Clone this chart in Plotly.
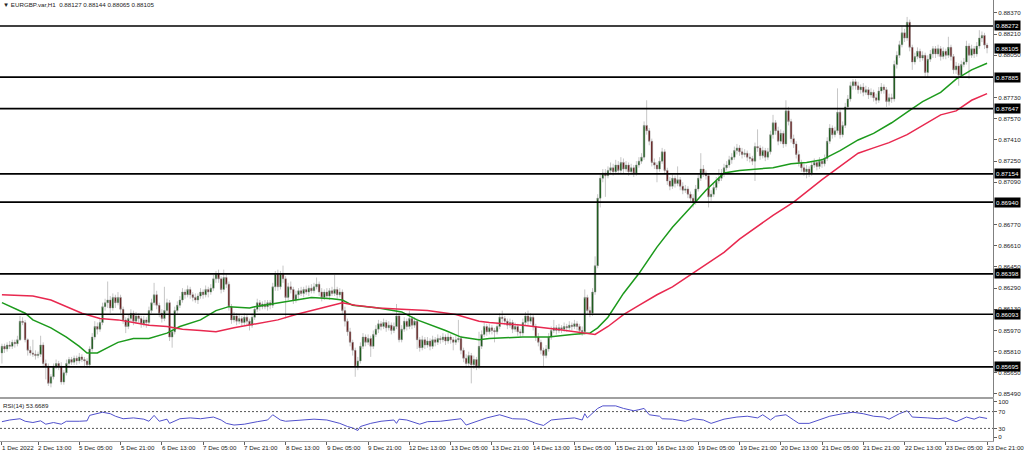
import pandas as pd
import plotly.graph_objects as go

# ---------------- data ----------------
symbol_title = "\u25bc EURGBP.var,H1  0.88127 0.88144 0.88065 0.88105"
rsi_title = "RSI(14) 53.6689"

first_open = 0.8580
close = [
    0.8585, 0.8583, 0.8586, 0.8585, 0.8588, 0.8587, 0.8590, 0.8604, 0.8603, 0.8590,
    0.8582, 0.8580, 0.8579, 0.8578, 0.8579, 0.8586, 0.8572, 0.8570, 0.8557, 0.8562,
    0.8570, 0.8572, 0.8570, 0.8558, 0.8565, 0.8572, 0.8575, 0.8573, 0.8576, 0.8574,
    0.8577, 0.8575, 0.8574, 0.8571, 0.8583, 0.8592, 0.8600, 0.8598, 0.8603, 0.8615,
    0.8618, 0.8620, 0.8614, 0.8622, 0.8618, 0.8622, 0.8613, 0.8605, 0.8600, 0.8606,
    0.8610, 0.8604, 0.8608, 0.8606, 0.8602, 0.8605, 0.8603, 0.8612, 0.8618, 0.8624,
    0.8616, 0.8610, 0.8606, 0.8612, 0.8618, 0.8592, 0.8596, 0.8612, 0.8616, 0.8620,
    0.8626, 0.8624, 0.8628, 0.8624, 0.8622, 0.8620, 0.8623, 0.8626, 0.8624, 0.8628,
    0.8626, 0.8629, 0.8636, 0.8640, 0.8636, 0.8628, 0.8637, 0.8632, 0.8615, 0.8605,
    0.8608, 0.8604, 0.8606, 0.8603, 0.8607, 0.8604, 0.8601, 0.8607, 0.8613, 0.8618,
    0.8615, 0.8617, 0.8615, 0.8618, 0.8616, 0.8630, 0.8640, 0.8630, 0.8640, 0.8636,
    0.8622, 0.8630, 0.8628, 0.8620, 0.8624, 0.8627, 0.8625, 0.8628, 0.8626, 0.8629,
    0.8627, 0.8630, 0.8632, 0.8626, 0.8622, 0.8626, 0.8623, 0.8627, 0.8625, 0.8628,
    0.8624, 0.8626, 0.8612, 0.8604, 0.8596, 0.8588, 0.8582, 0.8570, 0.8574, 0.8585,
    0.8592, 0.8588, 0.8591, 0.8585, 0.8594, 0.8598, 0.8602, 0.8600, 0.8603, 0.8599,
    0.8601, 0.8597, 0.8600, 0.8608, 0.8590, 0.8598, 0.8604, 0.8600, 0.8606, 0.8601,
    0.8604, 0.8590, 0.8584, 0.8590, 0.8586, 0.8589, 0.8585, 0.8590, 0.8588, 0.8591,
    0.8590, 0.8592, 0.8589, 0.8592, 0.8590, 0.8588, 0.8590, 0.8591, 0.8582, 0.8576,
    0.8572, 0.8578, 0.8571, 0.8575, 0.8570, 0.8585, 0.8594, 0.8600, 0.8596, 0.8599,
    0.8597, 0.8596, 0.8600, 0.8607, 0.8606, 0.8604, 0.8601, 0.8603, 0.8598, 0.8600,
    0.8596, 0.8595, 0.8603, 0.8608, 0.8604, 0.8607, 0.8600, 0.8592, 0.8588, 0.8582,
    0.8578, 0.8583, 0.8592, 0.8597, 0.8599, 0.8597, 0.8599, 0.8598, 0.8600, 0.8599,
    0.8601, 0.8600, 0.8602, 0.8600, 0.8597, 0.8596, 0.8622, 0.8612, 0.8610, 0.8626,
    0.8646, 0.8697, 0.8712, 0.8716, 0.8714, 0.8718, 0.8720, 0.8717, 0.8722, 0.8718,
    0.8724, 0.8719, 0.8722, 0.8717, 0.8720, 0.8716, 0.8722, 0.8725, 0.8728, 0.8752,
    0.8748, 0.8740, 0.8724, 0.8722, 0.8719, 0.8725, 0.8732, 0.8718, 0.8710, 0.8706,
    0.8712, 0.8708, 0.8711, 0.8706, 0.8703, 0.8704, 0.8700, 0.8697, 0.8694, 0.8704,
    0.8712, 0.8719, 0.8716, 0.8714, 0.8698, 0.8700, 0.8705, 0.8710, 0.8712, 0.8716,
    0.8720, 0.8722, 0.8726, 0.8728, 0.8733, 0.8735, 0.8732, 0.8730, 0.8731, 0.8728,
    0.8727, 0.8725, 0.8736, 0.8735, 0.8729, 0.8733, 0.8728, 0.8732, 0.8745, 0.8754,
    0.8748, 0.8740, 0.8746, 0.8738, 0.8763, 0.8755, 0.8742, 0.8738, 0.8730, 0.8724,
    0.8720, 0.8717, 0.8719, 0.8716, 0.8722, 0.8724, 0.8721, 0.8725, 0.8723, 0.8727,
    0.8740, 0.8750, 0.8745, 0.8748, 0.8762, 0.8745, 0.8752, 0.8766, 0.8772, 0.8782,
    0.8785, 0.8782, 0.8779, 0.8781, 0.8777, 0.8779, 0.8775, 0.8777, 0.8773, 0.8771,
    0.8778, 0.8781, 0.8779, 0.8770, 0.8773, 0.8772, 0.8798, 0.8805, 0.8813, 0.8822,
    0.8818, 0.8830, 0.8811, 0.8800, 0.8804, 0.8808, 0.8803, 0.8805, 0.8792, 0.8802,
    0.8806, 0.8810, 0.8806, 0.8810, 0.8804, 0.8808, 0.8805, 0.8811, 0.8804, 0.8794,
    0.8797, 0.8790, 0.8798, 0.8800, 0.8812, 0.8805, 0.8810, 0.8806, 0.8812, 0.8818,
    0.8820, 0.88127, 0.88105,
]
# wick lengths in pips (0.0001) above / below the candle body
upper_wick_pips = [
    2, 2, 2, 3, 2, 2, 3, 4, 3, 2,
    1, 3, 10, 3, 2, 7, 2, 3, 2, 2,
    2, 3, 2, 3, 2, 3, 2, 2, 2, 2,
    3, 2, 2, 2, 2, 3, 4, 3, 3, 3,
    3, 14, 3, 3, 2, 4, 2, 2, 2, 3,
    3, 2, 3, 2, 2, 3, 2, 3, 3, 9,
    3, 2, 3, 18, 3, 2, 3, 3, 3, 3,
    3, 2, 3, 2, 2, 3, 2, 3, 2, 3,
    2, 3, 3, 2, 3, 2, 6, 3, 2, 2,
    3, 2, 3, 2, 3, 2, 2, 3, 2, 3,
    2, 2, 3, 2, 2, 3, 2, 3, 2, 6,
    2, 3, 4, 2, 3, 2, 3, 2, 3, 2,
    3, 3, 5, 2, 3, 2, 3, 2, 3, 11,
    2, 3, 2, 3, 2, 3, 2, 2, 3, 3,
    3, 2, 3, 2, 3, 3, 3, 2, 3, 2,
    3, 2, 3, 9, 2, 3, 3, 2, 6, 2,
    3, 2, 2, 3, 2, 3, 2, 3, 2, 3,
    2, 3, 2, 3, 2, 2, 3, 14, 2, 2,
    3, 3, 2, 3, 2, 11, 3, 3, 2, 3,
    2, 2, 3, 3, 5, 2, 2, 3, 2, 3,
    2, 2, 3, 3, 4, 3, 2, 2, 3, 2,
    2, 3, 3, 3, 6, 2, 3, 2, 3, 2,
    3, 2, 3, 2, 2, 3, 6, 2, 3, 3,
    7, 3, 3, 3, 3, 3, 4, 3, 4, 3,
    4, 3, 3, 2, 3, 2, 3, 3, 3, 3,
    19, 2, 2, 3, 2, 3, 3, 2, 2, 3,
    3, 2, 10, 2, 3, 3, 2, 2, 3, 3,
    3, 12, 3, 2, 2, 3, 3, 3, 7, 3,
    3, 3, 3, 3, 3, 3, 2, 3, 3, 2,
    3, 2, 3, 13, 2, 3, 2, 3, 3, 6,
    2, 3, 3, 2, 8, 3, 2, 3, 2, 3,
    2, 3, 3, 2, 3, 3, 2, 3, 2, 3,
    3, 3, 2, 3, 18, 2, 3, 3, 3, 3,
    2, 2, 3, 2, 3, 3, 2, 3, 2, 3,
    3, 3, 2, 2, 3, 3, 3, 3, 3, 5,
    3, 4, 2, 2, 3, 3, 2, 3, 2, 3,
    3, 2, 2, 3, 2, 3, 2, 8, 2, 2,
    3, 2, 3, 3, 4, 2, 3, 2, 3, 6,
    3, 2, 1.7,
]
lower_wick_pips = [
    8, 3, 2, 2, 2, 3, 2, 1, 2, 2,
    4, 2, 2, 3, 2, 2, 3, 10, 2, 3,
    2, 2, 3, 2, 2, 2, 3, 2, 2, 3,
    2, 2, 4, 2, 2, 2, 2, 4, 2, 2,
    3, 4, 4, 2, 4, 2, 3, 3, 5, 2,
    2, 3, 2, 3, 3, 2, 4, 2, 2, 2,
    3, 3, 3, 2, 2, 3, 8, 2, 3, 2,
    2, 3, 2, 3, 3, 2, 3, 2, 3, 2,
    4, 2, 2, 3, 3, 3, 2, 3, 3, 3,
    2, 3, 2, 3, 2, 3, 4, 2, 2, 2,
    3, 2, 2, 3, 3, 2, 3, 3, 2, 3,
    16, 2, 3, 3, 2, 3, 2, 3, 2, 3,
    2, 2, 2, 3, 3, 2, 2, 3, 2, 2,
    3, 2, 3, 4, 3, 3, 4, 8, 3, 2,
    2, 3, 2, 8, 2, 2, 3, 3, 2, 3,
    2, 3, 2, 2, 2, 2, 2, 3, 2, 3,
    2, 7, 3, 2, 3, 2, 3, 2, 3, 2,
    3, 2, 3, 2, 3, 6, 2, 2, 3, 3,
    3, 2, 14, 3, 3, 2, 2, 2, 3, 2,
    3, 8, 2, 2, 3, 3, 3, 2, 3, 2,
    3, 3, 2, 2, 3, 2, 3, 3, 3, 3,
    8, 2, 2, 2, 2, 3, 2, 3, 2, 3,
    2, 3, 2, 3, 3, 3, 2, 3, 3, 2,
    2, 2, 7, 3, 16, 2, 3, 3, 2, 3,
    2, 3, 2, 3, 2, 3, 2, 2, 2, 2,
    3, 3, 3, 3, 10, 2, 2, 3, 3, 3,
    2, 3, 2, 3, 3, 2, 3, 3, 4, 2,
    2, 2, 3, 3, 8, 3, 2, 2, 2, 2,
    3, 2, 2, 3, 2, 3, 3, 3, 2, 3,
    3, 3, 15, 3, 3, 2, 3, 2, 2, 3,
    3, 3, 2, 3, 2, 3, 3, 3, 3, 3,
    3, 3, 5, 3, 2, 2, 3, 2, 3, 2,
    2, 2, 3, 2, 2, 3, 2, 2, 2, 2,
    3, 3, 3, 3, 3, 2, 3, 2, 3, 3,
    2, 2, 3, 4, 3, 3, 2, 3, 2, 2,
    3, 2, 3, 6, 2, 2, 3, 2, 3, 4,
    2, 3, 3, 2, 3, 2, 3, 2, 3, 3,
    3, 8, 2, 2, 2, 18, 2, 3, 2, 2,
    3, 3, 4,
]

# moving averages sampled along the chart (bar number, price)
ma_green_bar = [0, 9, 12, 19, 25, 30, 33, 37, 41, 45, 51, 57, 64, 69, 77, 83, 88, 96, 98, 104,
                107, 114, 120, 128, 132, 136, 146, 155, 161, 172, 178, 185, 189, 202, 212, 221,
                228, 231, 235, 241, 247, 254, 260, 267, 273, 280, 286, 299, 306, 312, 318, 325,
                332, 338, 345, 351, 357, 364, 370, 376, 382]
ma_green_val = [0.8618, 0.8610, 0.8605, 0.8599, 0.8592, 0.8585, 0.8580, 0.8580, 0.8584, 0.8588,
                0.8591, 0.8591, 0.8595, 0.8600, 0.8605, 0.8612, 0.8615, 0.8614, 0.8615, 0.8617,
                0.8618, 0.8620, 0.8622, 0.8621, 0.8620, 0.8616, 0.8614, 0.8611, 0.8605, 0.8597,
                0.8592, 0.8590, 0.8591, 0.8592, 0.8592, 0.8594, 0.8595, 0.8599, 0.8607, 0.8625,
                0.8640, 0.8660, 0.8675, 0.8690, 0.8703, 0.8716, 0.8718, 0.8720, 0.8723, 0.8724,
                0.8726, 0.8733, 0.8741, 0.8746, 0.8754, 0.8762, 0.8770, 0.8777, 0.8787, 0.8794,
                0.8799]
ma_red_bar = [0, 12, 19, 25, 31, 38, 45, 51, 57, 64, 70, 77, 83, 90, 96, 101, 107, 114, 120, 126,
              132, 137, 146, 155, 165, 176, 185, 189, 202, 215, 225, 230, 235, 241, 247, 254, 260,
              267, 273, 280, 286, 299, 307, 312, 318, 325, 332, 338, 344, 351, 357, 364, 370, 376,
              382]
ma_red_val = [0.8624, 0.8623, 0.8620, 0.8615, 0.8610, 0.8606, 0.8605, 0.8603, 0.8601, 0.8600,
              0.8598, 0.8597, 0.8596, 0.8599, 0.8601, 0.8603, 0.8605, 0.8609, 0.8612, 0.8615,
              0.8618, 0.8616, 0.8614, 0.8613, 0.8612, 0.8609, 0.8604, 0.8603, 0.8601, 0.8598,
              0.8595, 0.8594, 0.8600, 0.8609, 0.8616, 0.8624, 0.8630, 0.8639, 0.8647, 0.8656,
              0.8666, 0.8684, 0.8694, 0.8702, 0.8711, 0.8721, 0.8731, 0.8735, 0.8739, 0.8745,
              0.8752, 0.8760, 0.8763, 0.8771, 0.8776]

# RSI(14) sampled along the chart (bar number, value)
rsi_bar = [0, 3, 7, 9, 12, 15, 17, 20, 23, 25, 30, 33, 34, 37, 39, 42, 44, 47, 51, 55, 57, 59, 61,
           64, 65, 69, 73, 77, 82, 85, 87, 90, 94, 99, 103, 105, 108, 110, 116, 121, 126, 130,
           131, 134, 136, 138, 139, 143, 147, 152, 153, 154, 157, 162, 165, 170, 174, 178, 180,
           184, 188, 193, 198, 203, 207, 210, 213, 216, 222, 225, 226, 227, 231, 233, 238, 241,
           245, 247, 249, 251, 255, 256, 260, 265, 268, 272, 275, 280, 285, 289, 293, 295, 298,
           300, 304, 307, 309, 313, 317, 321, 326, 330, 334, 338, 342, 344, 348, 351, 352, 353,
           359, 363, 366, 370, 374, 377, 379, 382]
rsi_val = [46, 50, 53, 47, 44, 48, 40, 44, 40, 47, 47, 48, 61, 65, 68.5, 65, 59, 53, 55, 52, 47,
           61, 47, 52, 42, 53, 55, 53, 57, 50, 42, 38, 40, 46, 50, 62.5, 50, 47, 50, 52, 50, 44,
           42, 34.5, 31, 25, 34.5, 42, 47, 50, 42, 52, 50, 40, 46, 47, 50, 53, 38, 46, 55, 62.5,
           53, 52, 42, 37, 50, 52, 55, 50, 65, 55, 77.6, 83.6, 83.6, 77.6, 72, 74.5, 77.6, 62.5,
           59, 53, 52, 47, 53, 50, 42, 52, 57, 59, 55, 62.5, 50, 59, 62.5, 50, 42, 42, 50, 59, 65,
           68.5, 65, 59, 57, 52, 65, 72, 65, 57, 55, 53, 55, 46, 57, 52, 57, 53.67]

level_prices = [0.88272, 0.87885, 0.87647, 0.87154, 0.86940, 0.86398, 0.86093, 0.85695]
last_price = 0.88105
# scale labels (0.86930 and 0.87890 sit hidden under level boxes in the reference)
price_ticks = [0.85490, 0.85650, 0.85810, 0.85970, 0.86130, 0.86290, 0.86450, 0.86610, 0.86770,
               0.87090, 0.87250, 0.87410, 0.87570, 0.87730, 0.88050, 0.88210, 0.88370]
rsi_levels = [70, 30]
rsi_tick_vals = [93, 70, 30, 9]
rsi_tick_text = ["100", "70", "30", "0"]

time_tick_stamps = ["2022-12-01 23:00", "2022-12-02 13:00", "2022-12-05 05:00", "2022-12-05 21:00",
                    "2022-12-06 13:00", "2022-12-07 05:00", "2022-12-07 21:00", "2022-12-08 13:00",
                    "2022-12-09 05:00", "2022-12-09 21:00", "2022-12-12 13:00", "2022-12-13 05:00",
                    "2022-12-13 21:00", "2022-12-14 13:00", "2022-12-15 05:00", "2022-12-15 21:00",
                    "2022-12-16 13:00", "2022-12-19 05:00", "2022-12-19 21:00", "2022-12-20 13:00",
                    "2022-12-21 05:00", "2022-12-21 21:00", "2022-12-22 13:00", "2022-12-23 05:00",
                    "2022-12-23 21:00"]
time_tick_labels = ["1 Dec 2022", "2 Dec 13:00", "5 Dec 05:00", "5 Dec 21:00", "6 Dec 13:00",
                    "7 Dec 05:00", "7 Dec 21:00", "8 Dec 13:00", "9 Dec 05:00", "9 Dec 21:00",
                    "12 Dec 13:00", "13 Dec 05:00", "13 Dec 21:00", "14 Dec 13:00", "15 Dec 05:00",
                    "15 Dec 21:00", "16 Dec 13:00", "19 Dec 05:00", "19 Dec 21:00", "20 Dec 13:00",
                    "21 Dec 05:00", "21 Dec 21:00", "22 Dec 13:00", "23 Dec 05:00", "23 Dec 21:00"]

# ---------------- build ----------------
times = pd.date_range("2022-12-01 23:00", "2022-12-23 21:00", freq="h")
times = times[times.dayofweek < 5]
n = len(close)
assert len(times) == n == len(upper_wick_pips) == len(lower_wick_pips), (len(times), n, len(upper_wick_pips), len(lower_wick_pips))
bars = list(range(n))
opens = [first_open] + close[:-1]
highs = [max(o, c) + u * 1e-4 for o, c, u in zip(opens, close, upper_wick_pips)]
lows = [min(o, c) - d * 1e-4 for o, c, d in zip(opens, close, lower_wick_pips)]

time_pos = {t: k for k, t in enumerate(times)}
tick_pos = [time_pos[pd.Timestamp(s)] for s in time_tick_stamps]

FONT = "Liberation Sans, Arial, sans-serif"
W, H = 1024, 453
ML, MR, MT, MB = 0, 31, 0, 12
plot_h = H - MT - MB

fig = go.Figure()
fig.add_trace(go.Candlestick(
    x=bars, open=opens, high=highs, low=lows, close=close,
    increasing=dict(line=dict(color="#8c8c8c", width=0.5), fillcolor="#055205"),
    decreasing=dict(line=dict(color="#8c8c8c", width=0.5), fillcolor="#600c0c"),
    whiskerwidth=0, hoverinfo="skip", xaxis="x", yaxis="y", showlegend=False))
fig.add_trace(go.Scatter(x=ma_green_bar, y=ma_green_val, mode="lines",
                         line=dict(color="#1c9a1c", width=1.5), xaxis="x", yaxis="y",
                         showlegend=False, hoverinfo="skip"))
fig.add_trace(go.Scatter(x=ma_red_bar, y=ma_red_val, mode="lines",
                         line=dict(color="#e8284f", width=1.5), xaxis="x", yaxis="y",
                         showlegend=False, hoverinfo="skip"))
fig.add_trace(go.Scatter(x=rsi_bar, y=rsi_val, mode="lines",
                         line=dict(color="#5050cc", width=1), xaxis="x2", yaxis="y2",
                         showlegend=False, hoverinfo="skip"))

shapes = []
for p in level_prices:
    shapes.append(dict(type="line", xref="paper", yref="y", x0=0, x1=1, y0=p, y1=p,
                       line=dict(color="#000000", width=1.6)))
for lv in rsi_levels:
    shapes.append(dict(type="line", xref="paper", yref="y2", x0=0, x1=1, y0=lv, y1=lv,
                       line=dict(color="#555555", width=1, dash="2px,2px")))

annotations = []
for p in level_prices + [last_price]:
    annotations.append(dict(xref="paper", yref="y", x=1, y=p, xanchor="left", yanchor="middle",
                            xshift=1, text=f"{p:.5f}", showarrow=False, bgcolor="#000000",
                            borderpad=1, font=dict(family=FONT, size=6.2, color="#ffffff")))
for pos, lab in zip(tick_pos, time_tick_labels):
    annotations.append(dict(xref="x2", yref="paper", x=pos, y=0, xanchor="left", yanchor="top",
                            xshift=-2, yshift=-1, text=lab, showarrow=False,
                            font=dict(family=FONT, size=6.2, color="#222222")))
annotations.append(dict(xref="paper", yref="paper", x=0, y=1, xanchor="left", yanchor="top",
                        xshift=1, yshift=1, text=symbol_title, showarrow=False,
                        font=dict(family=FONT, size=6.2, color="#222222")))
annotations.append(dict(xref="paper", yref="y2 domain", x=0, y=1, xanchor="left", yanchor="top",
                        xshift=1, yshift=-1, text=rsi_title, showarrow=False,
                        font=dict(family=FONT, size=6.2, color="#222222")))

main_bottom = (plot_h - 397) / plot_h
rsi_top = (plot_h - 399) / plot_h
xr = [-0.75, 384.3]

fig.update_layout(
    width=W, height=H, margin=dict(l=ML, r=MR, t=MT, b=MB),
    paper_bgcolor="#ffffff", plot_bgcolor="#ffffff",
    shapes=shapes, annotations=annotations, boxgap=0.12,
    xaxis=dict(domain=[0, 1], anchor="y", range=xr, showgrid=False, zeroline=False,
               showticklabels=False, ticks="", showline=True, linecolor="#a0a0a0", linewidth=1,
               rangeslider=dict(visible=False)),
    yaxis=dict(domain=[main_bottom, 1], anchor="x", side="right", range=[0.85467, 0.88468],
               tickvals=price_ticks, ticktext=[f"{v:.5f}" for v in price_ticks],
               showgrid=False, zeroline=False, ticks="outside", ticklen=3, tickcolor="#606060",
               showline=True, linecolor="#808080", linewidth=1,
               tickfont=dict(family=FONT, size=6.2, color="#222222")),
    xaxis2=dict(domain=[0, 1], anchor="y2", range=xr, matches="x", showgrid=False, zeroline=False,
                tickvals=tick_pos, ticktext=["" for _ in tick_pos], ticks="outside", ticklen=3,
                tickcolor="#606060", showline=True, mirror=True, linecolor="#a0a0a0", linewidth=1),
    yaxis2=dict(domain=[0, rsi_top], anchor="x2", side="right", range=[0, 100],
                tickvals=rsi_tick_vals, ticktext=rsi_tick_text, showgrid=False, zeroline=False,
                ticks="outside", ticklen=3, tickcolor="#606060", showline=True,
                linecolor="#808080", linewidth=1,
                tickfont=dict(family=FONT, size=6.2, color="#222222")),
)

fig.write_html("out.html", config={"displayModeBar": False},
               post_script="document.body.style.margin='0';document.body.style.overflow='hidden';")
